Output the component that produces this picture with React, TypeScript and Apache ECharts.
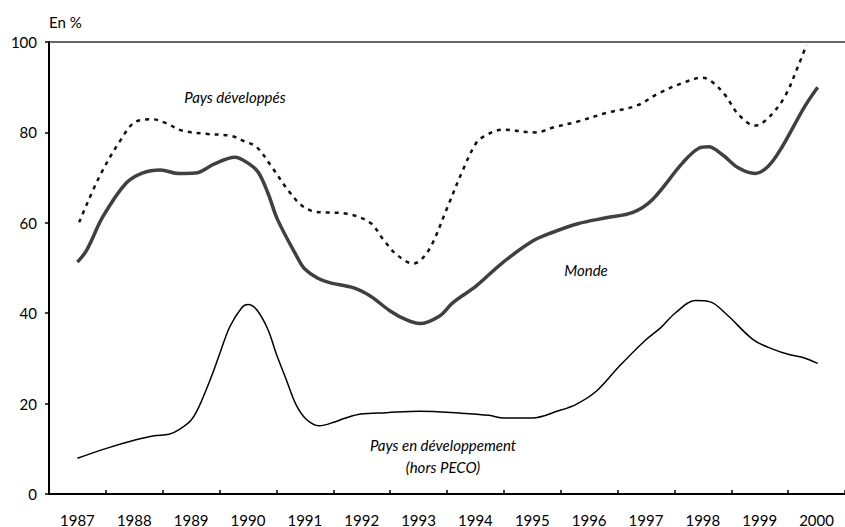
import React, { useEffect, useRef } from "react";
import * as echarts from "echarts";

const years = ["1987", "1988", "1989", "1990", "1991", "1992", "1993", "1994", "1995", "1996", "1997", "1998", "1999", "2000"];
const yTicks = [0, 20, 40, 60, 80, 100];

const monde: [number, number][] = [
  [1987.5, 51.3], [1987.66, 53.9], [1987.95, 61.4], [1988.35, 68.7], [1988.64, 71.0], [1988.96, 71.7],
  [1989.28, 70.9], [1989.57, 71.0], [1989.92, 73.1], [1990.27, 74.5], [1990.5, 73.2], [1990.68, 71.2],
  [1990.85, 66.6], [1991.02, 60.7], [1991.37, 52.3], [1991.49, 49.9], [1991.72, 47.8], [1991.95, 46.7],
  [1992.36, 45.6], [1992.65, 43.8], [1993.0, 40.5], [1993.29, 38.5], [1993.52, 37.7], [1993.87, 39.4],
  [1994.1, 42.3], [1994.51, 46.0], [1994.97, 51.1], [1995.5, 55.9], [1995.84, 57.8], [1996.3, 59.8],
  [1996.8, 61.1], [1997.27, 62.3], [1997.61, 65.1], [1998.14, 73.2], [1998.43, 76.5], [1998.6, 76.8],
  [1998.84, 75.1], [1999.13, 72.1], [1999.42, 70.9], [1999.65, 72.5], [1999.88, 76.5], [2000.29, 85.7],
  [2000.52, 90.0],
];

const paysDeveloppes: [number, number][] = [
  [1987.53, 60.1], [1987.89, 70.3], [1988.27, 78.5], [1988.53, 82.4], [1988.82, 82.9], [1989.05, 82.1],
  [1989.34, 80.4], [1989.75, 79.7], [1990.21, 79.2], [1990.44, 78.0], [1990.65, 76.8], [1990.91, 72.5],
  [1991.2, 67.3], [1991.43, 64.0], [1991.66, 62.5], [1992.24, 62.0], [1992.65, 60.0], [1992.88, 56.3],
  [1993.11, 53.0], [1993.41, 51.0], [1993.58, 52.3], [1993.75, 55.6], [1993.99, 62.9], [1994.28, 71.7],
  [1994.51, 77.6], [1994.65, 79.1], [1994.97, 80.6], [1995.55, 80.0], [1995.9, 81.2], [1996.3, 82.4],
  [1996.8, 84.3], [1997.33, 85.9], [1997.73, 88.7], [1998.14, 90.9], [1998.49, 92.1], [1998.66, 91.2],
  [1998.89, 88.3], [1999.13, 83.9], [1999.42, 81.5], [1999.65, 83.2], [1999.94, 87.9], [2000.17, 94.5],
  [2000.32, 99.3],
];

const paysEnDeveloppement: [number, number][] = [
  [1987.5, 7.9], [1988.01, 10.1], [1988.53, 12.0], [1988.85, 12.9], [1989.11, 13.2], [1989.28, 14.2],
  [1989.49, 16.2], [1989.63, 19.1], [1989.86, 26.1], [1990.01, 31.3], [1990.18, 37.0], [1990.39, 41.2],
  [1990.5, 41.9], [1990.65, 40.8], [1990.85, 36.4], [1991.0, 30.9], [1991.17, 25.4], [1991.34, 19.9],
  [1991.52, 16.6], [1991.75, 15.1], [1992.04, 16.0], [1992.19, 16.7], [1992.48, 17.7], [1992.94, 18.0],
  [1993.52, 18.3], [1994.22, 17.9], [1994.74, 17.4], [1995.0, 16.8], [1995.5, 16.8], [1995.96, 18.4],
  [1996.28, 19.9], [1996.63, 22.8], [1997.01, 28.0], [1997.47, 33.8], [1997.76, 36.8], [1998.02, 40.1],
  [1998.37, 42.8], [1998.63, 42.5], [1998.92, 39.7], [1999.39, 34.1], [1999.74, 32.0], [2000.03, 30.8],
  [2000.26, 30.2], [2000.52, 28.9],
];

const FONT = "Lato, 'DejaVu Sans', sans-serif";
const italic = (text: string, x: number, y: number) => ({
  type: "text",
  x,
  y,
  style: { text, fontSize: 15, fontStyle: "italic", fontFamily: FONT, fill: "#000", textAlign: "center", textVerticalAlign: "middle" },
});

export default function App() {
  const ref = useRef<HTMLDivElement>(null);
  useEffect(() => {
    if (!ref.current) return;
    const chart = echarts.init(ref.current, null, { renderer: "svg" });
    chart.setOption({
      animation: false,
      backgroundColor: "#ffffff",
      grid: { left: 49, top: 42, width: 804, height: 453, containLabel: false },
      xAxis: [
        {
          type: "category",
          data: years,
          position: "bottom",
          boundaryGap: true,
          axisLine: { show: true, lineStyle: { color: "#000", width: 2 } },
          axisTick: { show: true, inside: true, length: 4, lineStyle: { color: "#000", width: 1.5 } },
          axisLabel: { interval: 0, color: "#000", fontSize: 15, fontFamily: FONT, margin: 18 },
          splitLine: { show: false },
        },
        {
          type: "value",
          min: 1987,
          max: 2001,
          position: "top",
          axisLine: { show: true, onZero: false, lineStyle: { color: "#333", width: 1.5 } },
          axisTick: { show: false },
          axisLabel: { show: false },
          splitLine: { show: false },
        },
      ],
      yAxis: {
        type: "value",
        min: yTicks[0],
        max: yTicks[yTicks.length - 1],
        interval: 20,
        axisLine: { show: true, lineStyle: { color: "#000", width: 2 } },
        axisTick: { show: true, inside: false, length: 4, lineStyle: { color: "#000", width: 1.5 } },
        axisLabel: { color: "#000", fontSize: 15, fontFamily: FONT, margin: 12 },
        splitLine: { show: false },
      },
      series: [
        {
          name: "Pays développés",
          type: "line",
          xAxisIndex: 1,
          data: paysDeveloppes,
          smooth: 0.35,
          showSymbol: false,
          symbol: "none",
          lineStyle: { color: "#111", width: 2.5, type: [4, 5] },
        },
        {
          name: "Monde",
          type: "line",
          xAxisIndex: 1,
          data: monde,
          smooth: 0.35,
          showSymbol: false,
          symbol: "none",
          lineStyle: { color: "#404040", width: 3.5 },
        },
        {
          name: "Pays en développement (hors PECO)",
          type: "line",
          xAxisIndex: 1,
          data: paysEnDeveloppement,
          smooth: 0.35,
          showSymbol: false,
          symbol: "none",
          lineStyle: { color: "#000", width: 1.5 },
        },
      ],
      graphic: [
        { type: "text", left: 49, top: 14, style: { text: "En %", fontSize: 15, fontFamily: FONT, fill: "#000" } },
        italic("Pays développés", 235, 97),
        italic("Monde", 586, 270),
        italic("Pays en développement", 443, 445),
        italic("(hors PECO)", 443, 467),
      ],
    });
    return () => chart.dispose();
  }, []);
  return <div ref={ref} style={{ position: "fixed", left: 0, top: 0, width: 845, height: 527 }} />;
}
